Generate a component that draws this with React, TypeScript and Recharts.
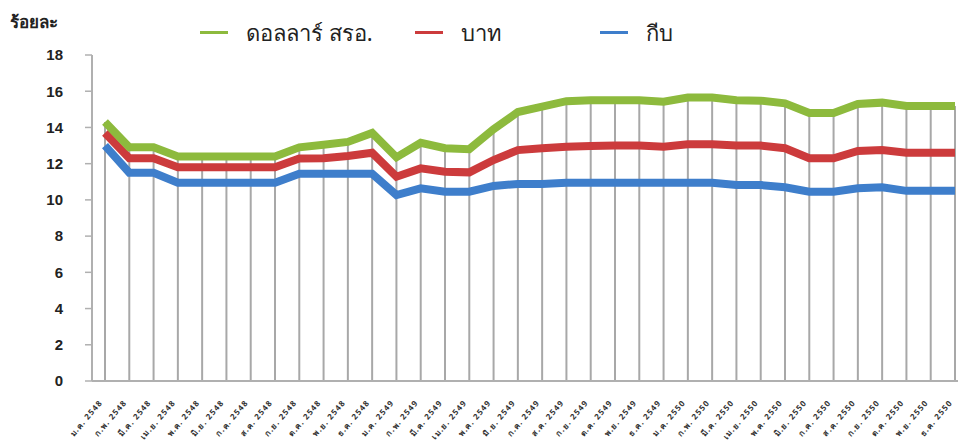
import React from 'react';
import { ComposedChart, Line, XAxis, YAxis, ReferenceLine } from 'recharts';

const monthNames = ['ม.ค.', 'ก.พ.', 'มี.ค.', 'เม.ย.', 'พ.ค.', 'มิ.ย.', 'ก.ค.', 'ส.ค.', 'ก.ย.', 'ต.ค.', 'พ.ย.', 'ธ.ค.'];
const years = ['2548', '2549', '2550'];
const months: string[] = years.flatMap((y) => monthNames.map((m) => `${m} ${y}`));

const usd = [14.3, 12.9, 12.9, 12.4, 12.4, 12.4, 12.4, 12.4, 12.9, 13.05, 13.2, 13.7,
  12.35, 13.15, 12.85, 12.8, 13.9, 14.85, 15.15, 15.45, 15.5, 15.5, 15.5, 15.42,
  15.65, 15.65, 15.5, 15.48, 15.33, 14.8, 14.8, 15.3, 15.37, 15.18, 15.18, 15.18];
const baht = [13.7, 12.3, 12.3, 11.8, 11.8, 11.8, 11.8, 11.8, 12.28, 12.3, 12.42, 12.6,
  11.28, 11.74, 11.56, 11.52, 12.2, 12.75, 12.85, 12.94, 12.98, 13.0, 13.0, 12.94,
  13.07, 13.07, 13.0, 13.0, 12.85, 12.3, 12.3, 12.7, 12.75, 12.6, 12.6, 12.6];
const kip = [13.0, 11.5, 11.5, 10.95, 10.95, 10.95, 10.95, 10.95, 11.45, 11.45, 11.45, 11.45,
  10.27, 10.64, 10.45, 10.45, 10.77, 10.88, 10.88, 10.95, 10.95, 10.95, 10.95, 10.95,
  10.95, 10.95, 10.82, 10.82, 10.7, 10.45, 10.45, 10.64, 10.7, 10.5, 10.5, 10.5];
const yTicks = [0, 2, 4, 6, 8, 10, 12, 14, 16, 18];

const seriesNames = ['ดอลลาร์ สรอ.', 'บาท', 'กีบ'];
const seriesColors = ['#8dba3d', '#cc3b3c', '#3e7ecb'];

const data = months.map((m, i) => ({ month: m, usd: usd[i], baht: baht[i], kip: kip[i] }));

const XTick = (props: any) => {
  const { x, y, payload } = props;
  return (
    <g transform={`translate(${x - 2},${y + 14})`}>
      <text x={0} y={0} textAnchor="end" transform="rotate(-49)" fontSize={8} fontWeight="bold" fill="#333"
        letterSpacing={1.1} fontFamily="'Noto Sans', sans-serif">
        {payload.value}
      </text>
    </g>
  );
};

const LegendBox = () => {
  const widths = [215, 185, 120];
  return (
    <div style={{ position: 'absolute', left: 200, top: 19, display: 'flex', alignItems: 'center' }}>
      {seriesNames.map((n, i) => (
        <div key={n} style={{ display: 'flex', alignItems: 'center', width: widths[i] }}>
          <div style={{ width: 28, height: 3, background: seriesColors[i], marginRight: 18 }} />
          <span style={{ fontSize: 22, color: '#222', fontFamily: "'Noto Sans', sans-serif", lineHeight: '26px' }}>{n}</span>
        </div>
      ))}
    </div>
  );
};

export default function App() {
  return (
    <div style={{ position: 'absolute', left: 0, top: 0, width: 958, height: 443, background: '#fff' }}>
      <ComposedChart width={958} height={443} data={data} margin={{ top: 55, right: 0, bottom: 0, left: 0 }}>
        <XAxis dataKey="month" scale="point" interval={0} height={62} padding={{ left: 13, right: 3 }}
          tick={<XTick />} tickLine={false} axisLine={{ stroke: '#b0b0b0', strokeWidth: 2 }} />
        <YAxis domain={[0, 18]} ticks={yTicks} width={92} tickSize={7} tickMargin={22}
          axisLine={{ stroke: '#b0b0b0', strokeWidth: 2 }} tickLine={{ stroke: '#b0b0b0', strokeWidth: 1.5 }}
          tick={{ fontSize: 15, fontWeight: 'bold', fill: '#222', fontFamily: "'Liberation Sans', Arial, sans-serif" }} />
        {data.map((d) => (
          <ReferenceLine key={d.month} segment={[{ x: d.month, y: 0 }, { x: d.month, y: d.usd }]}
            stroke="#a8a8a8" strokeWidth={2} zIndex={0} />
        ))}
        <Line dataKey="kip" stroke={seriesColors[2]} strokeWidth={8} dot={false} isAnimationActive={false} type="linear" />
        <Line dataKey="baht" stroke={seriesColors[1]} strokeWidth={8} dot={false} isAnimationActive={false} type="linear" />
        <Line dataKey="usd" stroke={seriesColors[0]} strokeWidth={8} dot={false} isAnimationActive={false} type="linear" />
      </ComposedChart>
      <LegendBox />
      <div style={{ position: 'absolute', left: 10, top: 8, fontSize: 17, fontWeight: 'bold', color: '#222',
        fontFamily: "'Noto Sans', sans-serif" }}>ร้อยละ</div>
    </div>
  );
}
